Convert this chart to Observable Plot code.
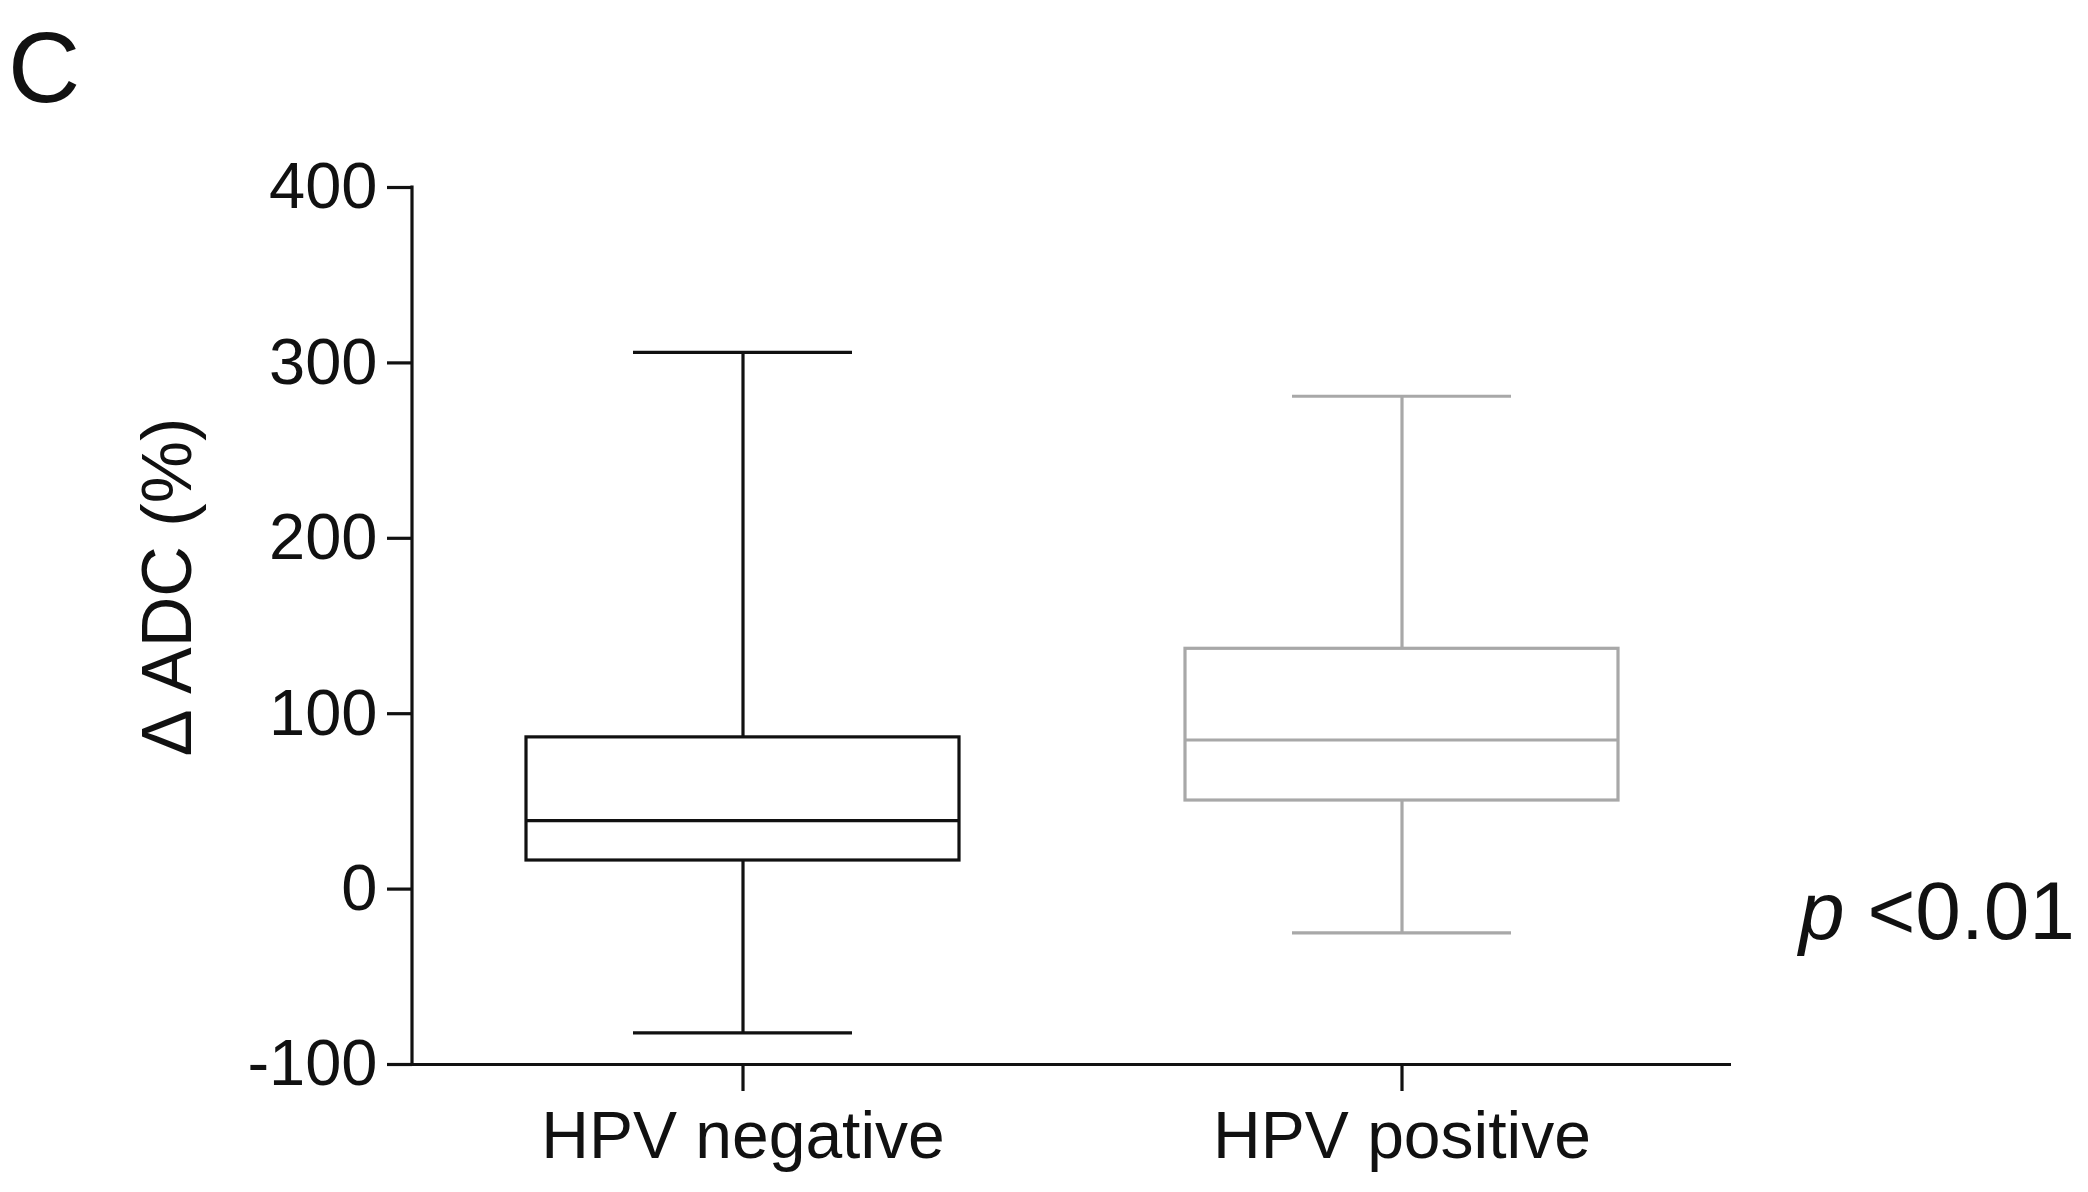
<!DOCTYPE html>
<html>
<head>
<meta charset="utf-8">
<script src="https://cdn.jsdelivr.net/npm/d3@7"></script>
<script src="https://cdn.jsdelivr.net/npm/@observablehq/plot@0.6"></script>
<style>
  html, body { margin: 0; padding: 0; background: #fff; }
  #wrap { position: relative; width: 2088px; height: 1192px; overflow: hidden; font-family: "Liberation Sans", Arial, sans-serif; color: #111; }
  #wrap svg { position: absolute; left: 0; top: 0; }
  .panel { position: absolute; left: 8px; top: 17px; font-size: 100px; line-height: 1; }
  .pval { position: absolute; left: 1799px; top: 870px; font-size: 82px; line-height: 1; white-space: pre; }
</style>
</head>
<body>
<div id="wrap">
  <div class="panel">C</div>
  <div class="pval"><i>p</i> &lt;0.01</div>
</div>
<script>
const categories = ["HPV negative", "HPV positive"];
const whiskerLow = [-82, -25];
const q1 = [16.3, 50.5];
const median = [39, 85];
const q3 = [86.5, 137];
const whiskerHigh = [306, 281];
const colors = ["#111111", "#a8a8a8"];
const yTicks = [-100, 0, 100, 200, 300, 400];
const yLabel = "\u0394 ADC (%)";

const data = categories.map((c, i) => ({
  group: c, lo: whiskerLow[i], q1: q1[i], med: median[i], q3: q3[i], hi: whiskerHigh[i], color: colors[i]
}));

const sw = 3.2;
const boxInset = 113;
const capInset = 220;

const yAxisLine = (index, scales, values, dimensions) => {
  const line = document.createElementNS("http://www.w3.org/2000/svg", "line");
  const y = scales.y;
  line.setAttribute("x1", dimensions.marginLeft);
  line.setAttribute("x2", dimensions.marginLeft);
  line.setAttribute("y1", y(d3.max(yTicks)) - sw / 2);
  line.setAttribute("y2", y(d3.min(yTicks)) + sw / 2);
  line.setAttribute("stroke", "#111");
  line.setAttribute("stroke-width", sw);
  return line;
};

const chart = Plot.plot({
  width: 2088,
  height: 1192,
  marginLeft: 412,
  marginRight: 357,
  marginTop: 187,
  marginBottom: 128,
  style: { fontFamily: "'Liberation Sans', Arial, sans-serif", background: "transparent", color: "#111" },
  x: { domain: categories, padding: 0 },
  y: { domain: [d3.min(yTicks), d3.max(yTicks)] },
  marks: [
    Plot.ruleX(data, { x: "group", y1: "lo", y2: "q1", stroke: d => d.color, strokeWidth: sw }),
    Plot.ruleX(data, { x: "group", y1: "q3", y2: "hi", stroke: d => d.color, strokeWidth: sw }),
    Plot.barY(data, { x: "group", y1: "q1", y2: "q3", fill: "none", stroke: d => d.color, strokeWidth: sw, insetLeft: boxInset, insetRight: boxInset }),
    Plot.tickY(data, { x: "group", y: "med", stroke: d => d.color, strokeWidth: sw, insetLeft: boxInset, insetRight: boxInset }),
    Plot.tickY(data, { x: "group", y: "hi", stroke: d => d.color, strokeWidth: sw, insetLeft: capInset, insetRight: capInset }),
    Plot.tickY(data, { x: "group", y: "lo", stroke: d => d.color, strokeWidth: sw, insetLeft: capInset, insetRight: capInset }),
    Plot.axisY({ ticks: yTicks, tickSize: 25, tickPadding: 10, fontSize: 65, label: null, strokeWidth: sw, tickFormat: d => d < 0 ? "-" + Math.abs(d) : String(d) }),
    Plot.axisX({ tickSize: 27, tickPadding: 20, fontSize: 66, label: null, strokeWidth: sw }),
    Plot.ruleY([d3.min(yTicks)], { stroke: "#111", strokeWidth: sw }),
    yAxisLine,
    Plot.text([yLabel], { frameAnchor: "left", textAnchor: "middle", rotate: -90, dx: -244, dy: -39, fontSize: 70, fill: "#111" })
  ]
});
document.getElementById("wrap").prepend(chart);
</script>
</body>
</html>
